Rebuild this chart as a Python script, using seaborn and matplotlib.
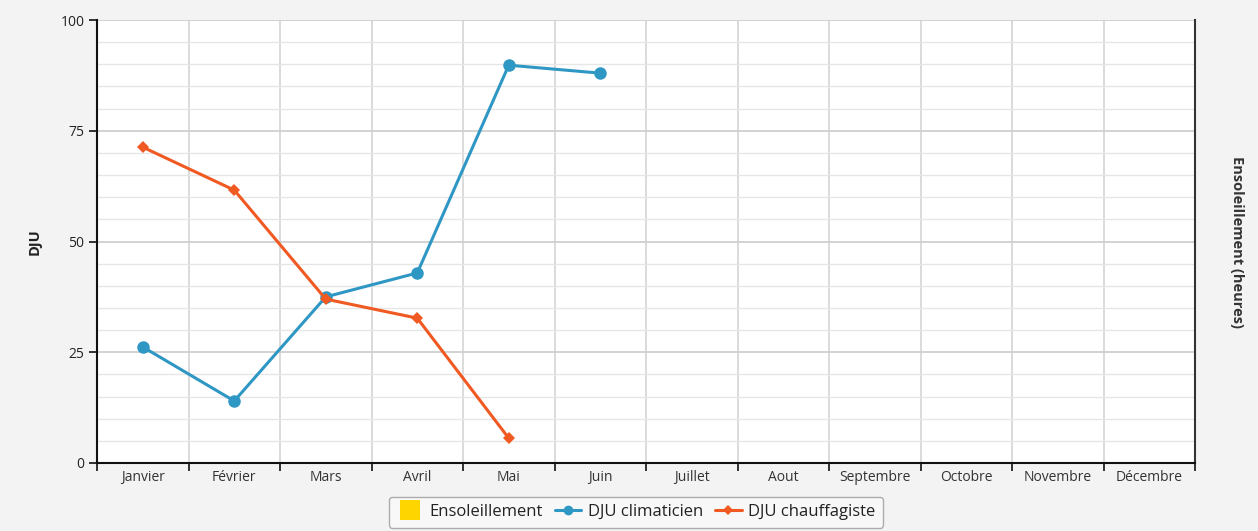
import numpy as np
import pandas as pd
import matplotlib
matplotlib.use("Agg")
import matplotlib.pyplot as plt
from matplotlib.lines import Line2D
import seaborn as sns

months = ["Janvier", "Février", "Mars", "Avril", "Mai", "Juin", "Juillet",
          "Aout", "Septembre", "Octobre", "Novembre", "Décembre"]
dju_clim = [26.2, 14.0, 37.5, 42.9, 89.8, 88.0]
dju_chauf = [71.3, 61.6, 37.0, 32.7, 5.6]
y_ticks = [0, 25, 50, 75, 100]

blue = "#2F97C4"
orange = "#F05A22"
sun = "#FFD500"

sns.set_theme(style="white")
plt.rcParams["font.family"] = ["Open Sans", "DejaVu Sans"]

clim_df = pd.DataFrame({"pos": np.arange(len(dju_clim)), "val": dju_clim})
chauf_df = pd.DataFrame({"pos": np.arange(len(dju_chauf)), "val": dju_chauf})

fig = plt.figure(figsize=(12.58, 5.31), dpi=100, facecolor="#f3f3f3")
ax = fig.add_axes([97 / 1258, 1 - 463 / 531, (1195 - 97) / 1258, (463 - 20) / 531])
ax.set_facecolor("white")

sns.lineplot(data=clim_df, x="pos", y="val", ax=ax, color=blue, lw=2.2,
             marker="o", markersize=9, markeredgewidth=0, sort=False, zorder=4)
sns.lineplot(data=chauf_df, x="pos", y="val", ax=ax, color=orange, lw=2.2,
             marker="D", markersize=6, markeredgewidth=0, sort=False, zorder=4)

ax.set_xlim(-0.5, len(months) - 0.5)
ax.set_ylim(0, 100)

# category labels at centres, tick marks and grid at boundaries
ax.set_xticks(np.arange(len(months)))
ax.set_xticklabels(months, fontsize=10, color="#333333")
ax.set_xticks(np.arange(len(months) + 1) - 0.5, minor=True)
ax.tick_params(axis="x", which="major", length=0, pad=5)
ax.tick_params(axis="x", which="minor", length=6, width=1.3, color="#222222",
               direction="out", bottom=True)

ax.set_yticks(y_ticks)
ax.set_yticklabels([str(v) for v in y_ticks], fontsize=10, color="#222222")
ax.set_yticks(np.arange(0, 101, 5), minor=True)
ax.tick_params(axis="y", which="major", length=6, width=1.3, color="#222222",
               direction="out", left=True, pad=3)
ax.tick_params(axis="y", which="minor", length=0)

ax.grid(which="minor", axis="x", color="#d4d4d4", lw=1.2)
ax.grid(which="minor", axis="y", color="#e6e6e6", lw=1.0)
ax.grid(which="major", axis="y", color="#cfcfcf", lw=1.3)
ax.grid(which="major", axis="x", visible=False)
ax.set_axisbelow(True)

for side in ["left", "bottom"]:
    ax.spines[side].set_color("#111111")
    ax.spines[side].set_linewidth(1.5)
ax.spines["right"].set_color("#333333")
ax.spines["right"].set_linewidth(1.5)
ax.spines["top"].set_visible(False)

ax.set_xlabel("")
ax.set_ylabel("DJU", fontsize=10.5, fontweight="bold", color="#222222")
ax.yaxis.set_label_coords(-0.05, 0.5)

ax2 = ax.twinx()
ax2.set_yticks([])
for s in ax2.spines.values():
    s.set_visible(False)
ax2.set_ylabel("Ensoleillement (heures)", fontsize=10.5, fontweight="bold",
               color="#333333", rotation=270, va="center")
ax2.yaxis.set_label_coords(1.038, 0.5)

handles = [
    Line2D([], [], color=sun, lw=0, marker="s", markersize=14, markeredgewidth=0,
           label="Ensoleillement"),
    Line2D([], [], color=blue, lw=2.2, marker="o", markersize=7, markeredgewidth=0,
           label="DJU climaticien"),
    Line2D([], [], color=orange, lw=2.2, marker="D", markersize=5, markeredgewidth=0,
           label="DJU chauffagiste"),
]
leg = fig.legend(handles=handles, loc="center", bbox_to_anchor=(636 / 1258, 1 - 512 / 531),
                 ncol=3, frameon=True, fontsize=12, handlelength=1.6,
                 handletextpad=0.4, columnspacing=0.7, borderpad=0.45,
                 fancybox=True, facecolor="#fafafa", edgecolor="#9a9a9a")
leg.get_frame().set_linewidth(1.0)
for t in leg.get_texts():
    t.set_color("#222222")

fig.savefig("out.png", dpi=100, facecolor=fig.get_facecolor())
